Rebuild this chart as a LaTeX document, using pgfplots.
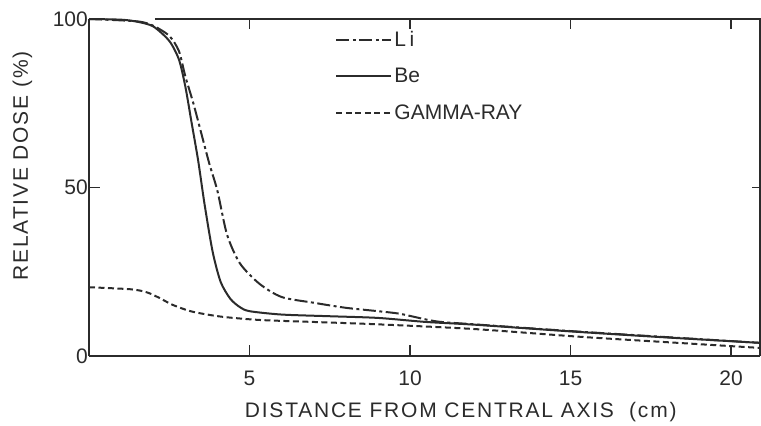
\documentclass[border=0pt]{standalone}
\usepackage{pgfplots}
\pgfplotsset{compat=1.18}
\usepackage{fontspec}
\setmainfont{Liberation Sans}
\newfontfamily\labfont[LetterSpace=8.5]{Liberation Sans}
\definecolor{ink}{HTML}{2B2B2B}

\pgfplotstableread{
x y
0 100
1.0 99.8
1.5 99.2
2.0 97.8
2.5 93.5
2.8 88
3.0 80
3.2 69
3.4 58
3.6 45
3.85 31
4.1 22
4.4 17
4.7 14.5
5.0 13.3
6.0 12.3
7.5 11.8
9.0 11.3
10.5 10.1
12.0 9.3
15.0 7.3
18.0 5.5
20.9 3.9
}\tabBe

\pgfplotstableread{
x y
0 100
1.5 99.3
2.0 98
2.5 95
2.8 90.5
3.0 83
3.25 75
3.5 66
3.75 57
4.0 49
4.3 36
4.7 27.5
5.3 21.5
6.0 17.5
7.0 15.8
8.0 14.3
9.0 13.3
9.7 12.5
10.8 10.3
12.0 9.4
15.0 7.4
18.0 5.6
20.9 3.9
}\tabLi

\pgfplotstableread{
x y
0 20.4
1.3 19.8
1.8 18.9
2.2 17.2
2.6 15.2
3.2 13.2
4.1 11.7
5.3 10.7
7.0 10.1
9.0 9.4
12.0 8.0
15.3 5.7
18.0 4.1
20.9 2.4
}\tabGamma

\begin{document}
\begin{tikzpicture}
\path[use as bounding box] (-89pt,-70pt) rectangle (672pt,356pt);
\begin{axis}[
  scale only axis,
  width=671pt, height=337pt,
  at={(0pt,0pt)}, anchor=south west,
  xmin=0, xmax=20.9, ymin=0, ymax=100,
  axis x line=bottom, axis y line=left,
  axis line style={-, ink, line width=1.8pt},
  xtick={5,10,15,20}, ytick={0,50,100},
  tick align=inside,
  major tick length=11pt,
  tick style={ink, line width=1.6pt},
  /pgf/number format/assume math mode=true,
  tick label style={font=\fontsize{21}{23}\selectfont, text=ink},
  xticklabel style={anchor=north, inner sep=0pt, yshift=-15pt},
  yticklabel style={anchor=east, inner sep=0pt, xshift=-1pt},
  legend style={at={(rel axis cs:0.367,1)}, anchor=north west,
    draw=none, fill=none, inner xsep=0pt, inner ysep=0pt, yshift=-10pt,
    font=\fontsize{21}{21}\selectfont, text=ink, row sep=16.5pt},
  legend cell align=left,
  legend image code/.code={\draw[#1] (0pt,0pt) -- (55pt,0pt);},
  clip=false,
]
\addplot[ink, line width=2pt, smooth, tension=0.45,
  dash pattern=on 13pt off 3.5pt on 3pt off 3.5pt] table {\tabLi};
\addlegendentry{L\,i}
\addplot[ink, line width=2pt, smooth, tension=0.45] table {\tabBe};
\addlegendentry{Be}
\addplot[ink, line width=2pt, smooth, tension=0.45,
  dash pattern=on 6pt off 3.5pt] table {\tabGamma};
\addlegendentry{GAMMA-RAY}

% partial frame on top and right
\draw[ink, line width=1.8pt] (axis cs:2.05,100) -- (axis cs:20.9,100) -- (axis cs:20.9,0);
\draw[ink, line width=1.6pt] (axis cs:5,100) -- ++(0pt,-10pt);
\draw[ink, line width=1.6pt] (axis cs:10,100) -- ++(0pt,-10pt);
\draw[ink, line width=1.6pt] (axis cs:15,100) -- ++(0pt,-10pt);
\draw[ink, line width=1.6pt] (axis cs:20,100) -- ++(0pt,-10pt);
\draw[ink, line width=1.6pt] (axis cs:20.9,50) -- ++(-8pt,0pt);

\node[yshift=-61pt, anchor=base, text=ink, font=\labfont\fontsize{21}{23}\selectfont]
  at (rel axis cs:0.554,0) {DISTANCE FROM CENTRAL AXIS\ \ (cm)};
\node[xshift=-61pt, rotate=90, anchor=base, text=ink, font=\labfont\fontsize{21}{23}\selectfont]
  at (rel axis cs:0,0.564) {RELATIVE DOSE (\%)};
\end{axis}
\end{tikzpicture}
\end{document}
